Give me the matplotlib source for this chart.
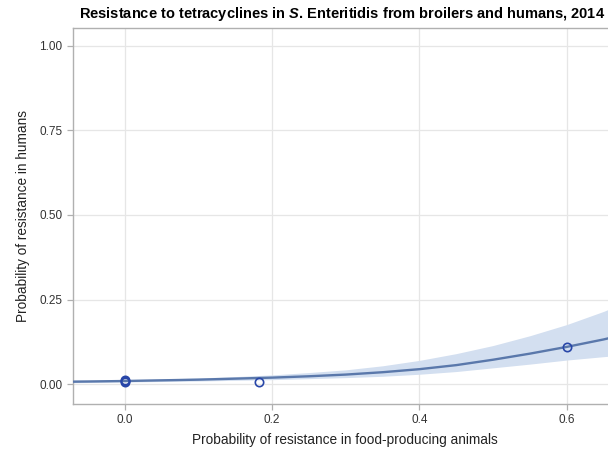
import numpy as np
import matplotlib
matplotlib.use('Agg')
import matplotlib.pyplot as plt

plt.rcParams['font.family'] = ['Liberation Sans', 'DejaVu Sans']
plt.rcParams['mathtext.fontset'] = 'custom'
plt.rcParams['mathtext.it'] = 'Liberation Sans:italic:bold'

# observed points (animals vs humans)
obs_x = [0.0, 0.0, 0.0, 0.182, 0.60]
obs_y = [0.013, 0.008, 0.005, 0.005, 0.110]

# fitted curve and confidence band
fit_x = [-0.07, -0.05, 0.0, 0.05, 0.1, 0.15, 0.2, 0.25, 0.3, 0.35,
         0.4, 0.45, 0.5, 0.55, 0.6, 0.65, 0.7]
fit_y = [0.007, 0.0075, 0.009, 0.011, 0.013, 0.016, 0.019, 0.023, 0.028, 0.035,
         0.044, 0.056, 0.072, 0.090, 0.110, 0.132, 0.158]
fit_lo = [0.004, 0.0045, 0.006, 0.0075, 0.009, 0.011, 0.013, 0.016, 0.019, 0.023,
          0.029, 0.037, 0.048, 0.059, 0.071, 0.081, 0.090]
fit_hi = [0.012, 0.012, 0.013, 0.015, 0.018, 0.022, 0.027, 0.034, 0.042, 0.054,
          0.070, 0.090, 0.114, 0.143, 0.176, 0.215, 0.260]

xticks = [0.0, 0.2, 0.4, 0.6]
yticks = [0.0, 0.25, 0.5, 0.75, 1.0]

fig = plt.figure(figsize=(6.08, 4.55), dpi=100)
# plot area runs past the right edge, as in the reference crop
ax = fig.add_axes([73/608, 1 - 404/455, (617-73)/608, (404-28)/455])

ax.fill_between(fit_x, fit_lo, fit_hi, color='#d3dff0', lw=0, zorder=2)
ax.plot(fit_x, fit_y, color='#5a78ab', lw=1.7, zorder=3)
ax.plot(obs_x, obs_y, 'o', mfc='none', mec='#2846a8', mew=1.2, ms=6, zorder=4)

ax.set_xlim(-0.07, 0.668)
ax.set_ylim(-0.059, 1.053)
ax.set_xticks(xticks)
ax.set_xticklabels(['0.0', '0.2', '0.4', '0.6'])
ax.set_yticks(yticks)
ax.set_yticklabels(['0.00', '0.25', '0.50', '0.75', '1.00'])

ax.grid(True, color='#e6e6e6', lw=0.9, zorder=0)
ax.set_axisbelow(True)
for s in ax.spines.values():
    s.set_color('#b0b0b0')
    s.set_linewidth(1.0)
ax.tick_params(colors='#b0b0b0', labelcolor='#333333', labelsize=8.5,
               length=4, width=0.9)

ax.set_xlabel('Probability of resistance in food-producing animals',
              fontsize=9.8, color='#222222', labelpad=5)
ax.set_ylabel('Probability of resistance in humans',
              fontsize=9.8, color='#222222', labelpad=7)
ax.set_title(r'Resistance to tetracyclines in $S$. Enteritidis from broilers and humans, 2014',
             fontsize=10.5, fontweight='bold', pad=7, x=0.495)

fig.savefig('out.png', dpi=100)
